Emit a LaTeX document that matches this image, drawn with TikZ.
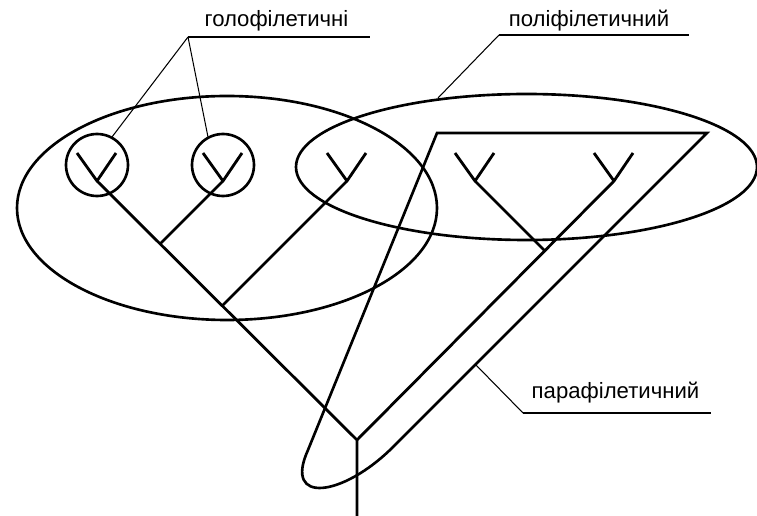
\documentclass[tikz,border=0pt]{standalone}
\usepackage{fontspec}
\setmainfont{Liberation Sans}
\usetikzlibrary{calc, positioning}
\tikzset{
  branch/.style={line width=1.6pt, line join=round},
  group/.style={line width=1.5pt},
  leader/.style={line width=0.6pt},
  rule/.style={line width=1.1pt},
  tag/.style={font=\fontsize{12.6}{15}\selectfont, inner sep=0pt, anchor=base}
}

\begin{document}
\begin{tikzpicture}[x=0.02cm, y=-0.02cm]
  \useasboundingbox (0,0) rectangle (757,516);
  % cladogram
  \coordinate (root) at (357,440);
  \coordinate (base) at (357,516);
  \foreach \n/\x in {1/97, 2/223, 3/347, 4/475, 5/614}{
    \coordinate (f\n) at (\x,181);
    \draw[branch] ($(f\n)+(-20,-28)$) -- (f\n) -- ++(19,-28);
  }
  \coordinate (j12) at (160,244);
  \coordinate (j3) at (222,306);
  \coordinate (j45) at (544.5,250.5);
  \draw[branch] (base) -- (root) -- (f1);
  \draw[branch] (root) -- (f5);
  \draw[branch] (j12) -- (f2);
  \draw[branch] (j3) -- (f3);
  \draw[branch] (j45) -- (f4);
  % groups
  \draw[group] (97,165) circle [radius=31];
  \draw[group] (223,165) circle [radius=31];
  \draw[group] (227,208) ellipse [x radius=210, y radius=112];
  \draw[group] (526.5,167) ellipse [x radius=230.5, y radius=73];
  \draw[group] (437,133) -- (707,133) -- (393,447)
    .. controls (343,497) and (283,505) .. (308,450) -- cycle;
  % labels
  \node[tag] (holo) at (276.5,27) {голофілетичні};
  \coordinate (holoL) at (188,37);
  \coordinate (holoR) at (370,37);
  \coordinate (c1) at (112,137);
  \coordinate (c2) at (208,137);
  \draw[rule] (holoL) -- (holoR);
  \draw[leader] (holoL) -- (c1);
  \draw[leader] (holoL) -- (c2);
  \node[tag] (poly) at (589,27) {поліфілетичний};
  \coordinate (polyL) at (499,35);
  \coordinate (polyR) at (689,35);
  \coordinate (e2) at (438,98);
  \draw[rule] (polyL) -- (polyR);
  \draw[leader] (polyL) -- (e2);
  \node[tag] (para) at (615.5,399) {парафілетичний};
  \coordinate (paraL) at (523,413);
  \coordinate (paraR) at (711,413);
  \coordinate (p1) at (476,365);
  \draw[rule] (paraL) -- (paraR);
  \draw[leader] (paraL) -- (p1);
\end{tikzpicture}
\end{document}
